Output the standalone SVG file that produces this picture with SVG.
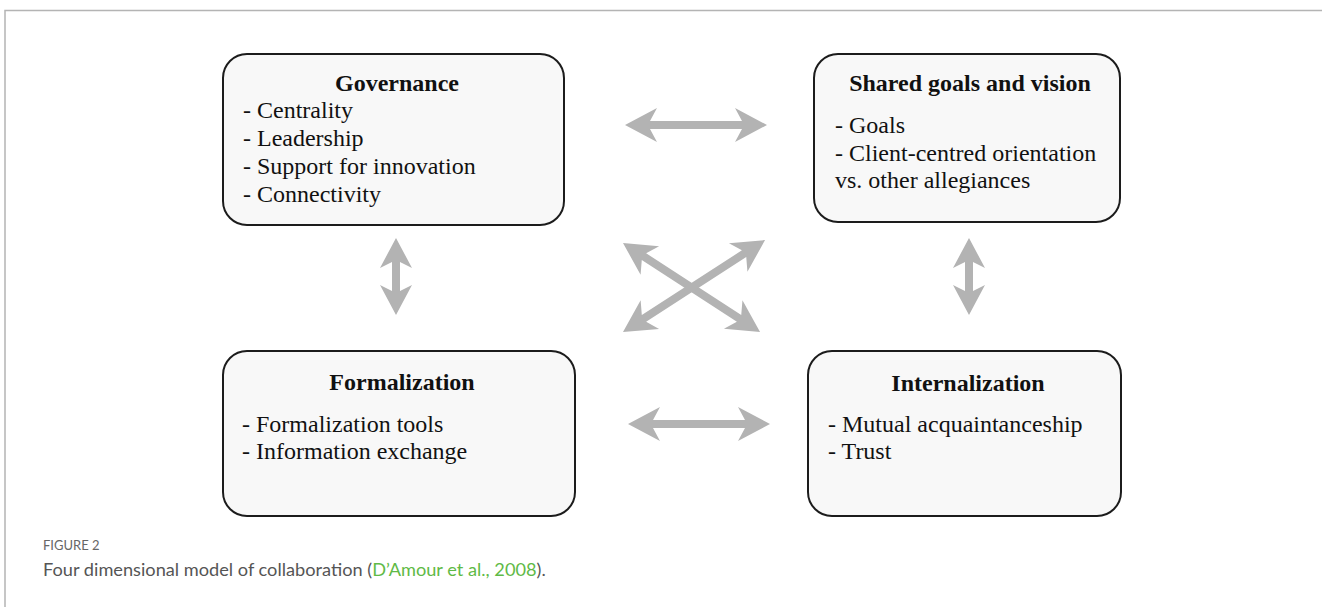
<svg xmlns="http://www.w3.org/2000/svg" width="1322" height="607" viewBox="0 0 1322 607">
<style>
.frame{stroke:#b4b4b4;stroke-width:1.5;fill:none}
.box{fill:#f8f8f8;stroke:#1c1c1c;stroke-width:2}
.title{font-family:"Liberation Serif",serif;font-weight:bold;font-size:24px;fill:#111;text-anchor:middle}
.body{font-family:"Liberation Serif",serif;font-size:24px;fill:#111}
.arrow{fill:#b3b3b3;stroke:none}
.figlabel{font-family:Lato,"Open Sans",sans-serif;font-size:13px;fill:#666}
.caption{font-family:Lato,"Open Sans",sans-serif;font-size:18.2px;fill:#555}
.link{fill:#5fba46}
</style>
<rect width="1322" height="607" fill="#ffffff"/>
<path class="frame" d="M5 607 V10.5 H1322"/>

<g id="governance">
<rect class="box" x="223" y="54" width="341" height="171" rx="24"/>
<text class="title" x="397" y="91">Governance</text>
<text class="body" x="243" y="118">- Centrality</text>
<text class="body" x="243" y="146">- Leadership</text>
<text class="body" x="243" y="174">- Support for innovation</text>
<text class="body" x="243" y="202">- Connectivity</text>
</g>

<g id="shared-goals">
<rect class="box" x="814" y="54" width="306" height="168" rx="24"/>
<text class="title" x="970" y="91">Shared goals and vision</text>
<text class="body" x="835" y="133">- Goals</text>
<text class="body" x="835" y="161">- Client-centred orientation</text>
<text class="body" x="835" y="188">vs. other allegiances</text>
</g>

<g id="formalization">
<rect class="box" x="223" y="351" width="352" height="165" rx="24"/>
<text class="title" x="402" y="390">Formalization</text>
<text class="body" x="242" y="432">- Formalization tools</text>
<text class="body" x="242" y="459">- Information exchange</text>
</g>

<g id="internalization">
<rect class="box" x="808" y="351" width="313" height="165" rx="24"/>
<text class="title" x="968" y="391">Internalization</text>
<text class="body" x="828" y="432">- Mutual acquaintanceship</text>
<text class="body" x="828" y="459">- Trust</text>
</g>

<g id="connectors">
<path class="arrow" transform="translate(625,125)" d="M0 0 L32 -17 L25 -4 L117 -4 L110 -17 L142 0 L110 17 L117 4 L25 4 L32 17 Z"/>
<path class="arrow" transform="translate(628,424)" d="M0 0 L32 -17 L25 -4 L117 -4 L110 -17 L142 0 L110 17 L117 4 L25 4 L32 17 Z"/>
<path class="arrow" transform="translate(396,238) rotate(90)" d="M0 0 L30 -16 L24 -4 L53 -4 L47 -16 L77 0 L47 16 L53 4 L24 4 L30 16 Z"/>
<path class="arrow" transform="translate(969,238) rotate(90)" d="M0 0 L30 -16 L24 -4 L53 -4 L47 -16 L77 0 L47 16 L53 4 L24 4 L30 16 Z"/>
<path class="arrow" transform="translate(623,243) rotate(33)" d="M0 0 L32 -17 L25 -4 L138.4 -4 L131.4 -17 L163.4 0 L131.4 17 L138.4 4 L25 4 L32 17 Z"/>
<path class="arrow" transform="translate(623,332) rotate(-32.9)" d="M0 0 L32 -17 L25 -4 L144.2 -4 L137.2 -17 L169.2 0 L137.2 17 L144.2 4 L25 4 L32 17 Z"/>
</g>

<text class="figlabel" x="43" y="550">FIGURE 2</text>
<text class="caption" x="43" y="576">Four dimensional model of collaboration (<tspan class="link">D’Amour et al., 2008</tspan>).</text>
</svg>
